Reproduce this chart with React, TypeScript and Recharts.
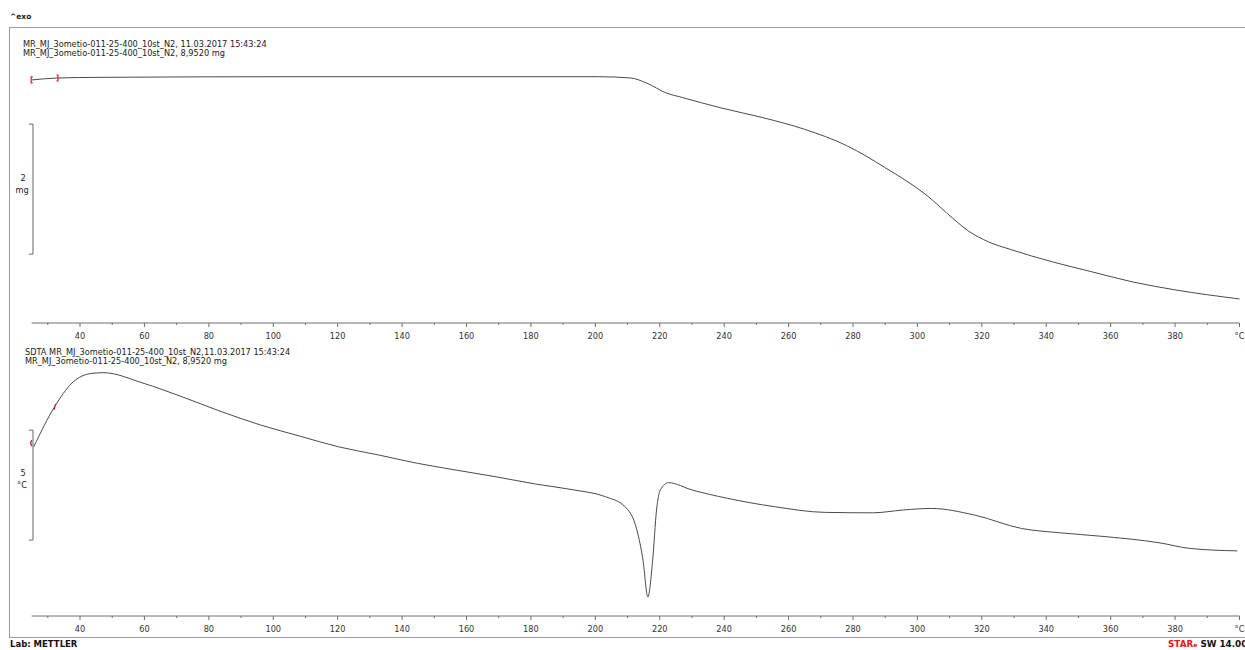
import React from 'react';
import { LineChart, Line, XAxis, YAxis, ReferenceLine, ReferenceDot } from 'recharts';

/* ---------------------------------------
   DATA
---------------------------------------- */
// TGA – sample mass (mg) vs temperature (°C)
const tgaTemp = [25, 33, 46, 108, 155, 201, 211, 216, 222, 227, 239, 252, 265, 278, 290, 303, 311, 316, 322, 329, 342, 354, 367, 380, 400];
const tgaMass = [8.92, 8.95, 8.96, 8.97, 8.97, 8.97, 8.95, 8.87, 8.72, 8.65, 8.49, 8.34, 8.16, 7.91, 7.57, 7.14, 6.79, 6.59, 6.43, 6.31, 6.12, 5.97, 5.81, 5.69, 5.55];

// SDTA – temperature difference (°C) vs temperature (°C)
const sdtaTemp = [25.6, 32.1, 37.5, 43.7, 47.3, 59.5, 71.6, 83.9, 96.1, 108.2, 120.3, 132.7, 144.8, 156.9, 169.1, 181.4, 193.4, 203.2, 209.2, 212.9, 214.8, 216.3, 217.8, 219.0, 220.2, 222.7, 230.0, 241.0, 255.6, 271.4, 286.0, 295.7, 304.3, 317.7, 332.3, 344.4, 356.7, 375.0, 384.7, 399.3];
const sdtaDelta = [0.0, 1.83, 2.91, 3.35, 3.38, 2.91, 2.29, 1.61, 1.0, 0.5, 0.01, -0.36, -0.74, -1.05, -1.35, -1.68, -1.95, -2.26, -2.71, -3.77, -5.14, -6.81, -5.14, -2.86, -1.95, -1.62, -1.95, -2.33, -2.71, -2.97, -2.99, -2.86, -2.79, -3.09, -3.7, -3.9, -4.05, -4.35, -4.61, -4.72];

// axis ticks: every 10 °C, labelled every 20 °C, last one is the unit
const tempTicks = [30, 40, 50, 60, 70, 80, 90, 100, 110, 120, 130, 140, 150, 160, 170, 180, 190, 200, 210, 220, 230, 240, 250, 260, 270, 280, 290, 300, 310, 320, 330, 340, 350, 360, 370, 380, 390, 400];

// scale bars
const massBar = [6.24, 8.24]; // 2 mg
const sdtaBar = [-4.23, 0.77]; // 5 °C

const tgaData = tgaTemp.map((t, i) => ({ t, v: tgaMass[i] }));
const sdtaData = sdtaTemp.map((t, i) => ({ t, v: sdtaDelta[i] }));

const FONT = '"DejaVu Sans", sans-serif';
const LINE = '#4a4a4a';
const AXIS = '#6e6e6e';

/* ---------------------------------------
   HELPERS
---------------------------------------- */
const TempTick = (props: any) => {
  const { x, y, payload } = props;
  const t = payload.value;
  const major = t % 20 === 0;
  let label = '';
  if (t === 400) label = '°C';
  else if (major) label = String(t);
  return (
    <g>
      <line x1={x} x2={x} y1={y} y2={y + (major ? 4 : 2)} stroke={AXIS} strokeWidth={1} />
      {label && (
        <text x={x} y={y + 16} textAnchor="middle" fontSize={8.2} fontFamily={FONT} fill="#333">
          {label}
        </text>
      )}
    </g>
  );
};

const bracket = (kind: string) => (props: any) => {
  const { cx, cy } = props;
  let d = '';
  if (kind === 'open') d = `M${cx + 1} ${cy - 3} H${cx - 0.5} V${cy + 3} H${cx + 1}`;
  if (kind === 'close') d = `M${cx - 1} ${cy - 3} H${cx + 0.5} V${cy + 3} H${cx - 1}`;
  if (kind === 'paren') d = `M${cx} ${cy - 3} Q${cx - 2} ${cy} ${cx} ${cy + 3}`;
  if (kind === 'tick') d = `M${cx + 1} ${cy - 3} L${cx - 0.5} ${cy + 3}`;
  return <path d={d} stroke="#e8141b" strokeWidth={1.2} fill="none" />;
};

const txt = (left: number, top: number, extra: React.CSSProperties = {}): React.CSSProperties => ({
  position: 'absolute',
  left,
  top,
  fontFamily: FONT,
  fontSize: 8.2,
  color: '#222',
  whiteSpace: 'nowrap',
  lineHeight: '9px',
  ...extra,
});

/* ---------------------------------------
   MAIN COMPONENT
---------------------------------------- */
export default function App() {
  return (
    <div
      style={{
        position: 'absolute',
        left: 0,
        top: 0,
        width: 1245,
        height: 650,
        overflow: 'hidden',
        background: '#fff',
      }}
    >
      {/* frame */}
      <div
        style={{
          position: 'absolute',
          left: 9,
          top: 27,
          width: 1300,
          height: 609,
          border: '1px solid #9c9c9c',
        }}
      />

      {/* header / footer */}
      <div style={txt(10, 12, { fontWeight: 'bold', fontSize: 7.5 })}>^exo</div>
      <div style={txt(23, 40)}>MR_MJ_3ometio-011-25-400_10st_N2, 11.03.2017 15:43:24</div>
      <div style={txt(23, 49)}>MR_MJ_3ometio-011-25-400_10st_N2, 8,9520 mg</div>
      <div style={txt(25, 348)}>SDTA MR_MJ_3ometio-011-25-400_10st_N2,11.03.2017 15:43:24</div>
      <div style={txt(25, 357)}>MR_MJ_3ometio-011-25-400_10st_N2, 8,9520 mg</div>
      <div style={txt(10, 640, { fontWeight: 'bold', fontSize: 8.5, color: '#111' })}>Lab: METTLER</div>
      <div style={txt(1168, 640, { fontWeight: 'bold', fontSize: 8.8, color: '#111' })}>
        <span style={{ color: '#e8141b' }}>STAR</span>
        <span style={{ color: '#e8141b', fontSize: 6, verticalAlign: 'top' }}>e</span> SW 14.00
      </div>

      {/* scale bar labels */}
      <div style={txt(18, 174, { textAlign: 'center', width: 10 })}>2</div>
      <div style={txt(13, 186, { textAlign: 'center', width: 18 })}>mg</div>
      <div style={txt(18, 469, { textAlign: 'center', width: 10 })}>5</div>
      <div style={txt(13, 481, { textAlign: 'center', width: 18 })}>°C</div>

      {/* TGA panel */}
      <div style={{ position: 'absolute', left: 0, top: 0 }}>
        <LineChart
          width={1245}
          height={340}
          data={tgaData}
          margin={{ top: 58.5, right: 5.5, left: 31.7, bottom: 0 }}
        >
          <XAxis
            dataKey="t"
            type="number"
            domain={[25, 400]}
            ticks={tempTicks}
            interval={0}
            height={17}
            tickSize={0}
            tickMargin={0}
            tickLine={false}
            axisLine={{ stroke: AXIS }}
            tick={<TempTick />}
          />
          <YAxis hide type="number" domain={[5.18, 9.25]} allowDataOverflow />
          <ReferenceLine
            segment={[{ x: 25.4, y: massBar[0] }, { x: 25.4, y: massBar[1] }]}
            stroke="#666"
            ifOverflow="visible"
          />
          <ReferenceLine
            segment={[{ x: 24.1, y: massBar[0] }, { x: 25.4, y: massBar[0] }]}
            stroke="#666"
            ifOverflow="visible"
          />
          <ReferenceLine
            segment={[{ x: 24.1, y: massBar[1] }, { x: 25.4, y: massBar[1] }]}
            stroke="#666"
            ifOverflow="visible"
          />
          <Line
            dataKey="v"
            type="monotone"
            stroke={LINE}
            strokeWidth={1}
            dot={false}
            isAnimationActive={false}
          />
          <ReferenceDot x={25} y={tgaMass[0]} ifOverflow="visible" shape={bracket('open')} />
          <ReferenceDot x={tgaTemp[1]} y={tgaMass[1]} ifOverflow="visible" shape={bracket('close')} />
        </LineChart>
      </div>

      {/* SDTA panel */}
      <div style={{ position: 'absolute', left: 0, top: 340 }}>
        <LineChart
          width={1245}
          height={300}
          data={sdtaData}
          margin={{ top: 25, right: 5.5, left: 31.7, bottom: 0 }}
        >
          <XAxis
            dataKey="t"
            type="number"
            domain={[25, 400]}
            ticks={tempTicks}
            interval={0}
            height={24}
            tickSize={0}
            tickMargin={0}
            tickLine={false}
            axisLine={{ stroke: AXIS }}
            tick={<TempTick />}
          />
          <YAxis hide type="number" domain={[-7.68, 3.73]} allowDataOverflow />
          <ReferenceLine
            segment={[{ x: 25.4, y: sdtaBar[0] }, { x: 25.4, y: sdtaBar[1] }]}
            stroke="#666"
            ifOverflow="visible"
          />
          <ReferenceLine
            segment={[{ x: 24.1, y: sdtaBar[0] }, { x: 25.4, y: sdtaBar[0] }]}
            stroke="#666"
            ifOverflow="visible"
          />
          <ReferenceLine
            segment={[{ x: 24.1, y: sdtaBar[1] }, { x: 25.4, y: sdtaBar[1] }]}
            stroke="#666"
            ifOverflow="visible"
          />
          <Line
            dataKey="v"
            type="monotone"
            stroke={LINE}
            strokeWidth={1}
            dot={false}
            isAnimationActive={false}
          />
          <ReferenceDot x={25} y={0.18} ifOverflow="visible" shape={bracket('paren')} />
          <ReferenceDot x={sdtaTemp[1]} y={sdtaDelta[1]} ifOverflow="visible" shape={bracket('tick')} />
        </LineChart>
      </div>
    </div>
  );
}
